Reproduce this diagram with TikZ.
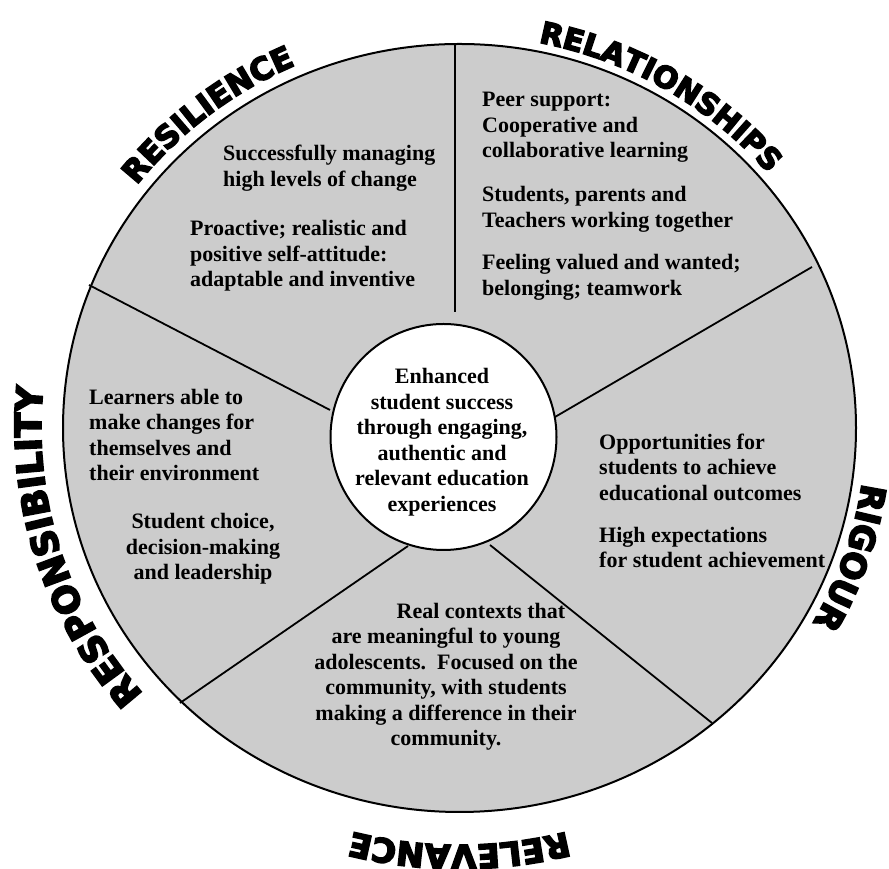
\documentclass[tikz,border=0pt]{standalone}
\usepackage{fontspec}
\setmainfont{Liberation Serif}
\newfontfamily\heavyfont{DejaVu Sans}[BoldFeatures={FakeBold=5}]
\usetikzlibrary{decorations.text,calc}
\definecolor{wheelgray}{RGB}{204,204,204}
\newcommand\bodyfont{\bfseries\fontsize{22}{25.5}\selectfont}
\begin{document}
\begin{tikzpicture}[x=1pt,y=1pt,
  body/.style={font=\bodyfont, inner sep=0pt, align=left, text=black},
  bodyc/.style={body, align=center},
  spoke/.style={line width=1.8pt, draw=black},
  arclabel/.style={decorate, decoration={text along path, text align=center, text={#1}}}
]
\useasboundingbox (0,0) rectangle (889,869);
\clip (0,0) rectangle (889,869);
\coordinate (C) at (459.5,441);
\filldraw[fill=wheelgray, draw=black, line width=2pt] (C) ellipse [x radius=396.5pt, y radius=384pt];

% spokes
\coordinate (t1) at (455,825);  \coordinate (t2) at (455,557);
\coordinate (ul1) at (89,584);  \coordinate (ul2) at (330,459);
\coordinate (ur1) at (812,602); \coordinate (ur2) at (555,452);
\coordinate (ll1) at (180,166); \coordinate (ll2) at (408,323);
\coordinate (lr1) at (712,146); \coordinate (lr2) at (490,324);
\draw[spoke] (t1) -- (t2);
\draw[spoke] (ul1) -- (ul2);
\draw[spoke] (ur1) -- (ur2);
\draw[spoke] (ll1) -- (ll2);
\draw[spoke] (lr1) -- (lr2);

% hub
\node[circle, draw=black, fill=white, line width=2pt, minimum size=226pt, inner sep=0pt] (hub) at (443.5,432) {};
\node[bodyc] (hubtext) at (442,427) {Enhanced\\student success\\through engaging,\\authentic and\\relevant education\\experiences};

% sector texts
\node[body, anchor=west] (res1) at (223,701) {Successfully managing\\high levels of change};
\node[body, anchor=west] (res2) at (190,613) {Proactive; realistic and\\positive self-attitude:\\adaptable and inventive};
\node[body, anchor=west] (rel1) at (482,741.5) {Peer support:\\Cooperative and\\collaborative learning};
\node[body, anchor=west] (rel2) at (482,659.5) {Students, parents and\\Teachers working together};
\node[body, anchor=west] (rel3) at (482,591.5) {Feeling valued and wanted;\\belonging; teamwork};
\node[body, anchor=west] (resp1) at (89,434) {Learners able to\\make changes for\\themselves and\\their environment};
\node[bodyc] (resp2) at (203,320) {Student choice,\\decision-making\\and leadership};
\node[body, anchor=west] (rig1) at (599,402) {Opportunities for\\students to achieve\\educational outcomes};
\node[body, anchor=west] (rig2) at (599,321.5) {High expectations\\for student achievement};
\node[bodyc] (relv) at (446,192.5) {\hspace*{70pt}Real contexts that\\are meaningful to young\\adolescents.\ \ Focused on the\\community, with students\\making a difference in their\\community.};

% curved titles
\path[arclabel={|\heavyfont\bfseries\fontsize{31}{31}\selectfont|RESILIENCE}]
  ($(C)+(150:408.5pt and 396pt)$) arc[start angle=150, end angle=106, x radius=408.5pt, y radius=396pt];
\path[arclabel={|\heavyfont\bfseries\fontsize{30}{30}\selectfont|RELATIONSHIPS}]
  ($(C)+(85:405.5pt and 393pt)$) arc[start angle=85, end angle=34, x radius=405.5pt, y radius=393pt];
\path[arclabel={|\heavyfont\bfseries\fontsize{34}{34}\selectfont|RIGOUR}]
  ($(C)+(10:406.5pt and 394pt)$) arc[start angle=10, end angle=-47.5, x radius=406.5pt, y radius=394pt];
\path[arclabel={|\heavyfont\bfseries\fontsize{36}{36}\selectfont|RESPONSIBILITY}]
  ($(C)+(232.5:418.5pt and 406pt)$) arc[start angle=232.5, end angle=162.5, x radius=418.5pt, y radius=406pt];
\path[arclabel={|\heavyfont\bfseries\fontsize{33}{33}\selectfont|RELEVANCE}]
  ($(C)+(300:429.5pt and 417pt)$) arc[start angle=300, end angle=240, x radius=429.5pt, y radius=417pt];
\end{tikzpicture}
\end{document}
